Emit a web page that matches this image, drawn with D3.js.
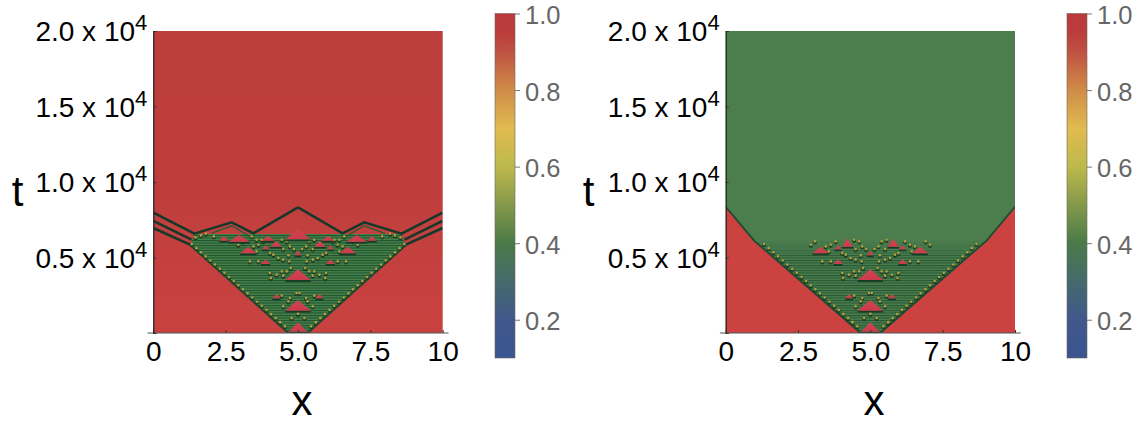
<!DOCTYPE html>
<html><head><meta charset="utf-8">
<script src="https://d3js.org/d3.v7.min.js"></script>
<style>html,body{margin:0;padding:0;background:#fff}svg{display:block}text{font-family:"Liberation Sans",Arial,sans-serif}</style>
</head><body><svg id="c" width="1137" height="424"></svg>
<script>
// ---- data: dx = distance from x = 5 (mirrored on both sides), t = time
const xTicks = [0, 2.5, 5, 7.5, 10];
const xTickLabels = ["0", "2.5", "5.0", "7.5", "10"];
const tTicks = [0, 5000, 10000, 15000, 20000];
const tTickLabels = ["", "0.5 x 10", "1.0 x 10", "1.5 x 10", "2.0 x 10"];
const cbTicks = [1.0, 0.8, 0.6, 0.4, 0.2];
const cbColorVals = [0.1, 0.2, 0.3, 0.4, 0.5, 0.6, 0.7, 0.8, 0.9, 0.95, 1.0];
const cbColors = ["#3a5490", "#40588c", "#456a6c", "#4a7a48", "#84994a", "#bdb94c", "#e0bb50", "#cf8c48", "#bf5242", "#bb3c3c", "#bb3b3c"];

// [dx, t] outline of the active wedge
const wedgeLeft = [[0.34, 0], [3.73, 5826], [3.56, 6554], [0, 6554]];
const wedgeRight = [[0.36, 0], [4.0, 6100], [0, 6100]];
// red regions under the front in the right panel
const redRight = [[5, 8364], [4.02, 6120], [0.34, 0], [5, 0]];
// dark wave fronts of the left panel
const fronts = [
  [[5, 7967], [3.58, 6580], [2.29, 7327], [1.54, 6599], [0, 8320]],
  [[5, 7430], [3.68, 6180]],
  [[5, 6950], [3.73, 5850]],
  [[3.0, 6600], [2.29, 7100], [1.66, 6400]]
];
// triangles [dx, tApex, tBase, halfWidth]
const triShared = [
  [0, 706, 88, 0.32], [0, 2185, 1479, 0.44], [0, 4215, 3509, 0.44],
  [0.74, 2582, 2295, 0.14], [1.12, 4877, 4568, 0.16], [0, 5451, 5142, 0.12],
  [1.72, 5716, 5275, 0.28], [1.12, 5804, 5540, 0.12]
];
const triLeftOnly = [
  [0.76, 6091, 5716, 0.21], [2.03, 6489, 6047, 0.37], [2.56, 6422, 6113, 0.16],
  [0, 6864, 6202, 0.44], [1.03, 6422, 6113, 0.23]
];
const triRightOnly = [[0.79, 6240, 5716, 0.2]];
// oscillation dots along the wedge edge
const edgeDots = [
  [0.45, 420], [0.61, 690], [0.77, 960], [0.93, 1230], [1.09, 1510], [1.25, 1780], [1.41, 2050],
  [1.58, 2330], [1.74, 2600], [1.90, 2870], [2.06, 3140], [2.22, 3420], [2.38, 3690], [2.54, 3960],
  [2.70, 4230], [2.87, 4510], [3.03, 4780], [3.19, 5050], [3.35, 5320], [3.51, 5600], [3.67, 5870]
];
const innerDots = [
  [0.94, 3620], [0.74, 3840], [0.51, 3774], [0.39, 4061], [0.25, 4282], [0.05, 2626], [0.28, 2295],
  [0.51, 1744], [0.33, 2075], [0.62, 706], [0.22, 971], [0, 1258], [0.56, 2450], [0.85, 5164],
  [0.68, 4944], [0.51, 4833], [0.33, 5120], [1.37, 4723], [0.14, 5540], [0.51, 5540], [0.28, 5716],
  [1.37, 5826], [1.2, 6047], [1.54, 5716], [1.43, 5385], [2.06, 5826], [1.91, 6047], [0.97, 5275],
  [0.56, 6157], [0.39, 6047], [0.97, 3950], [0.56, 4061], [1.66, 4723], [0.3, 4723]
];
const topDotsLeft = [
  [3.54, 6312], [3.35, 6444], [3.18, 6555], [2.91, 6378], [1.43, 6157], [1.26, 6157], [1.08, 6268], [1.6, 6378]
];

// ---- drawing
const svg = d3.select("#c");
const defs = svg.append("defs");
const blur = defs.append("filter").attr("id", "soft").attr("x", "-5%").attr("y", "-5%").attr("width", "110%").attr("height", "110%");
blur.append("feGaussianBlur").attr("stdDeviation", 0.7);
const stripes = defs.append("pattern").attr("id", "stripes").attr("patternUnits", "userSpaceOnUse").attr("width", 8).attr("height", 2.5);
stripes.append("rect").attr("width", 8).attr("height", 1).attr("fill", "#1f5030");
const triGrad = defs.append("linearGradient").attr("id", "tri").attr("x1", 0).attr("x2", 0).attr("y1", 0).attr("y2", 1);
triGrad.append("stop").attr("offset", 0).attr("stop-color", "#cf4550");
triGrad.append("stop").attr("offset", 1).attr("stop-color", "#cc3a4a");
const redGrad = defs.append("linearGradient").attr("id", "red").attr("x1", 0).attr("x2", 0).attr("y1", 0).attr("y2", 1);
redGrad.append("stop").attr("offset", 0).attr("stop-color", "#bd3d3d");
redGrad.append("stop").attr("offset", 0.55).attr("stop-color", "#c03e3e");
redGrad.append("stop").attr("offset", 1).attr("stop-color", "#c9433f");

function mirror(p, x) { return p.map(d => [x(5 - d[0]), d[1]]).concat(p.slice().reverse().map(d => [x(5 + d[0]), d[1]])); }

function panel(id, x0, x1, tX, lblX, kind) {
  const x = d3.scaleLinear().domain([0, 10]).range([x0, x1]);
  const y = d3.scaleLinear().domain([0, 20000]).range([333, 31]);
  const line = d3.line().x(d => x(d[0])).y(d => y(d[1]));
  const pts = (p) => p.map(d => `${x(d[0])},${y(d[1])}`).join(" ");
  const clip = defs.append("clipPath").attr("id", "clip" + id);
  clip.append("rect").attr("x", x0).attr("y", 31).attr("width", x1 - x0).attr("height", 302);
  const outer = svg.append("g").attr("clip-path", `url(#clip${id})`);
  const g = outer.append("g").attr("filter", "url(#soft)");
  const wedge = kind === "left" ? wedgeLeft : wedgeRight;
  const side = s => wedge.map(d => [5 + s * d[0], d[1]]);
  const wedgeOutline = side(-1).concat(side(1).reverse());

  g.append("rect").attr("x", x0 - 4).attr("y", 27).attr("width", x1 - x0 + 8).attr("height", 310)
    .attr("fill", kind === "left" ? "url(#red)" : "#4b7d4e");

  if (kind === "left") {
    g.append("polygon").attr("points", pts(wedgeOutline)).attr("fill", "#458148");
    g.append("polygon").attr("points", pts(wedgeOutline)).attr("fill", "url(#stripes)");
  } else {
    const m = defs.append("linearGradient").attr("id", "fade").attr("gradientUnits", "userSpaceOnUse")
      .attr("x1", 0).attr("x2", 0).attr("y1", y(6200)).attr("y2", y(5000));
    m.append("stop").attr("offset", 0).attr("stop-color", "#fff").attr("stop-opacity", 0);
    m.append("stop").attr("offset", 1).attr("stop-color", "#fff").attr("stop-opacity", 0.85);
    const mask = defs.append("mask").attr("id", "fadeMask").attr("maskUnits", "userSpaceOnUse")
      .attr("x", x0).attr("y", 31).attr("width", x1 - x0).attr("height", 302);
    mask.append("rect").attr("x", x0).attr("y", 31).attr("width", x1 - x0).attr("height", 302).attr("fill", "url(#fade)");
    g.append("polygon").attr("points", pts(wedgeOutline)).attr("fill", "url(#stripes)").attr("mask", "url(#fadeMask)");
    [-1, 1].forEach(s => {
      const poly = redRight.map(d => [5 + s * d[0], d[1]]);
      g.append("polygon").attr("points", pts(poly)).attr("fill", "#cb4340");
      g.append("path").attr("d", line(poly.slice(0, 3))).attr("fill", "none").attr("stroke", "#1f4a30").attr("stroke-width", 1.8);
    });
  }

  if (kind === "left") {
    [-1, 1].forEach(s => {
      g.append("path").attr("d", line(side(s).slice(0, 2))).attr("fill", "none").attr("stroke", "#1f4a30").attr("stroke-width", 1.8);
      fronts.forEach((f, i) => {
        g.append("path").attr("d", line(f.map(d => [5 + s * d[0], d[1]])))
          .attr("fill", "none").attr("stroke", i === 3 ? "#2a5a35" : "#14382a").attr("stroke-width", i === 3 ? 1.3 : 2.6);
      });
    });
  }

  const dots = edgeDots.concat(innerDots).concat(kind === "left" ? topDotsLeft : []);
  const dotXY = mirror(dots, x);
  g.selectAll("circle.sh").data(dotXY).join("circle").attr("class", "sh")
    .attr("cx", d => d[0]).attr("cy", d => y(d[1]) + 0.9).attr("r", 1.9).attr("fill", "#1d3e28");
  g.selectAll("circle.dot").data(dotXY).join("circle").attr("class", "dot")
    .attr("cx", d => d[0]).attr("cy", d => y(d[1]) - 0.3).attr("r", 1.35).attr("fill", "#aba03e");

  const tris = triShared.concat(kind === "left" ? triLeftOnly : triRightOnly);
  const triBoth = [];
  tris.forEach(d => { triBoth.push([5 - d[0], d[1], d[2], d[3]]); if (d[0] > 0) triBoth.push([5 + d[0], d[1], d[2], d[3]]); });
  g.selectAll("path.triS").data(triBoth).join("path").attr("class", "triS")
    .attr("d", d => line([[d[0] - d[3], d[2]], [d[0] + d[3], d[2]]]))
    .attr("stroke", "#183a26").attr("stroke-width", 1.8).attr("transform", "translate(0,1)");
  g.selectAll("polygon.tri").data(triBoth).join("polygon").attr("class", "tri")
    .attr("points", d => pts([[d[0], d[1]], [d[0] - d[3], d[2]], [d[0] + d[3], d[2]]]))
    .attr("fill", "url(#tri)");

  // axes
  const ax = d3.axisBottom(x).tickValues(xTicks).tickSize(-3).tickPadding(8).tickFormat((d, i) => xTickLabels[i]);
  const gx = svg.append("g").attr("transform", "translate(0,333)").call(ax);
  gx.select(".domain").remove();
  gx.selectAll(".tick line").attr("stroke", "#333");
  gx.selectAll("text").attr("font-size", 28).attr("fill", "#000").attr("font-family", '"Liberation Sans"');
  gx.append("line").attr("x1", x(-0.2)).attr("x2", x(10.2)).attr("stroke", "#555").attr("stroke-width", 1.2);

  const ay = d3.axisLeft(y).tickValues(tTicks).tickSize(-3).tickPadding(6).tickFormat(() => "");
  const gy = svg.append("g").attr("transform", `translate(${x0},0)`).call(ay);
  gy.select(".domain").attr("stroke", "#222").attr("stroke-width", 1.2);
  gy.selectAll(".tick line").attr("stroke", "#333");
  gy.selectAll(".tick text").each(function (d, i) {
    const t = d3.select(this).attr("font-size", 28).attr("fill", "#000").attr("font-family", '"Liberation Sans"').attr("text-anchor", "end").attr("dy", "0.35em");
    if (tTickLabels[i]) {
      t.append("tspan").text(tTickLabels[i]);
      t.append("tspan").attr("dy", -11).attr("font-size", 22).text("4");
    }
  });

  svg.append("text").attr("x", lblX).attr("y", 415).attr("text-anchor", "middle").attr("font-size", 42).attr("fill", "#000").text("x");
  svg.append("text").attr("x", tX).attr("y", 206).attr("text-anchor", "middle").attr("font-size", 42).attr("fill", "#000").text("t");
}

function colorbar(id, x0) {
  const y = d3.scaleLinear().domain([0.1, 1.0]).range([358, 13.5]);
  const grad = defs.append("linearGradient").attr("id", "cb" + id).attr("x1", 0).attr("x2", 0).attr("y1", 1).attr("y2", 0);
  cbColorVals.forEach((v, i) => grad.append("stop").attr("offset", (v - 0.1) / 0.9).attr("stop-color", cbColors[i]));
  svg.append("rect").attr("x", x0).attr("y", y(1)).attr("width", 20).attr("height", y(0.1) - y(1)).attr("fill", `url(#cb${id})`)
    .attr("stroke", "#6d6a5e").attr("stroke-width", 0.6);
  const a = d3.axisRight(y).tickValues(cbTicks).tickSize(5).tickPadding(5).tickFormat(d3.format(".1f"));
  const g = svg.append("g").attr("transform", `translate(${x0 + 20},0)`).call(a);
  g.select(".domain").remove();
  g.selectAll(".tick line").attr("stroke", "#777");
  g.selectAll("text").attr("font-size", 25.5).attr("fill", "#666").attr("dy", "0.4em").attr("font-family", '"Liberation Sans"');
}

panel("L", 153.3, 442.7, 17.5, 302, "left");
panel("R", 725.7, 1015, 588.5, 874, "right");
colorbar("L", 495);
colorbar("R", 1067);
</script></body></html>
